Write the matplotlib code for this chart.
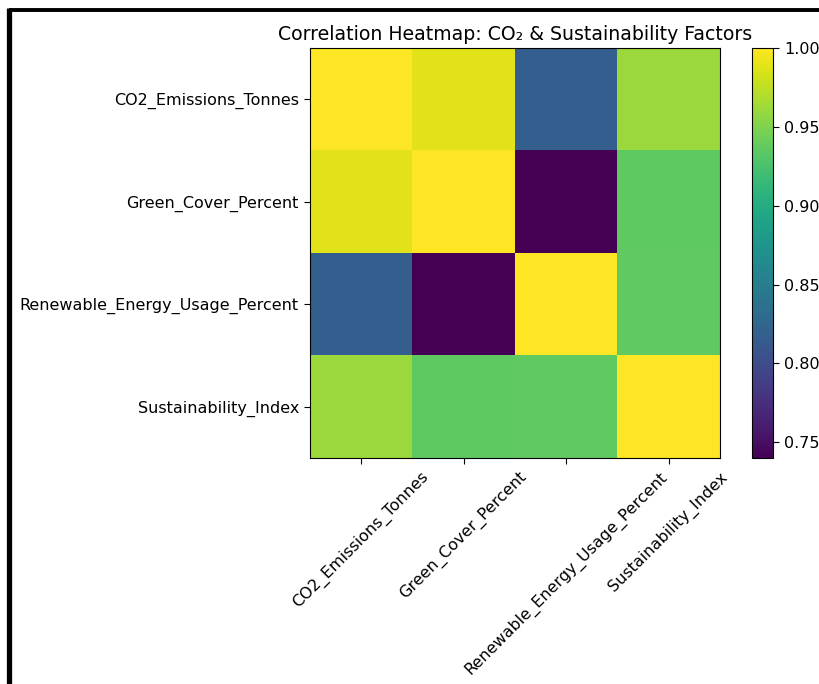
import numpy as np
import matplotlib
matplotlib.use("Agg")
import matplotlib.pyplot as plt
from matplotlib.lines import Line2D

factors = [
    "CO2_Emissions_Tonnes",
    "Green_Cover_Percent",
    "Renewable_Energy_Usage_Percent",
    "Sustainability_Index",
]

corr_co2 = [1.000, 0.988, 0.818, 0.961]
corr_green = [0.988, 1.000, 0.740, 0.935]
corr_renew = [0.818, 0.740, 1.000, 0.937]
corr_sustain = [0.961, 0.935, 0.937, 1.000]

corr = np.array([corr_co2, corr_green, corr_renew, corr_sustain])

fig = plt.figure(figsize=(8.2, 6.84), dpi=100)
W, H = 820, 684

ax = fig.add_axes([310 / W, 1 - 458 / H, 410 / W, 410 / H])
cax = fig.add_axes([752 / W, 1 - 458 / H, 21 / W, 410 / H])

im = ax.imshow(corr, cmap="viridis", aspect="auto")
ax.set_xticks(range(len(factors)))
ax.set_yticks(range(len(factors)))
ax.set_xticklabels(factors, rotation=45, fontsize=11.5)
ax.set_yticklabels(factors, fontsize=11.5)
ax.tick_params(length=4.5)
ax.set_title("Correlation Heatmap: CO\u2082 & Sustainability Factors", fontsize=13.6)

cb = fig.colorbar(im, cax=cax)
cb.set_ticks([0.75, 0.80, 0.85, 0.90, 0.95, 1.00])
cb.ax.tick_params(labelsize=11.5, length=4.5)

# black frame along the top and left edges
fig.add_artist(Line2D([9 / W, 1], [1 - 9.5 / H, 1 - 9.5 / H], color="black", lw=2.8,
                      transform=fig.transFigure, solid_capstyle="butt"))
fig.add_artist(Line2D([9.5 / W, 9.5 / W], [0, 1 - 8 / H], color="black", lw=3.8,
                      transform=fig.transFigure, solid_capstyle="butt"))

fig.savefig("out.png", dpi=100)
